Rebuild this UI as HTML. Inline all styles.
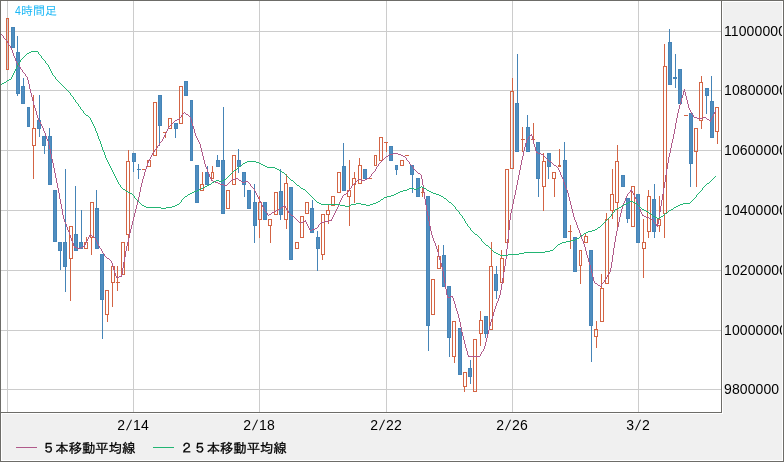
<!DOCTYPE html>
<html lang="ja"><head><meta charset="utf-8"><title>4時間足</title>
<style>
html,body{margin:0;padding:0;}
body{width:784px;height:462px;overflow:hidden;background:#f0f0f0;position:relative;font-family:"Liberation Sans","IPAGothic","Noto Sans CJK JP",sans-serif;color:#000;}
.a{position:absolute;}
#plot{left:1px;top:1px;width:720px;height:411px;background:#fff;overflow:hidden;}
svg{position:absolute;left:-1px;top:-1px;}
.yl{position:absolute;left:1px;font-size:14px;line-height:14px;white-space:nowrap;letter-spacing:0.1px;}
.xl{position:absolute;top:417px;width:60px;text-align:center;font-size:14px;line-height:16px;white-space:nowrap;}
.xl i{display:inline-block;width:8px;text-align:center;font-style:normal;transform:skewX(-12deg);}
.lg{position:absolute;top:441px;font-size:13.33px;line-height:16px;white-space:nowrap;-webkit-text-stroke:0.3px #000;}
#yax{left:723px;top:2px;width:59px;height:458px;overflow:hidden;}
#ttl{left:15px;top:3px;font-size:12px;line-height:16px;color:#1ab7f6;white-space:nowrap;}
#ttl b{font-weight:normal;display:inline-block;width:6px;transform:scaleX(0.88);transform-origin:0 50%;}
</style></head><body>
<div class="a" style="left:0;top:0;width:784px;height:1px;background:#6d6c68"></div>
<div class="a" style="left:0;top:0;width:1px;height:462px;background:#6d6c68"></div>
<div class="a" style="left:0;top:461px;width:784px;height:1px;background:#6d6c68"></div>
<div class="a" style="left:783px;top:0;width:1px;height:462px;background:#6d6c68"></div>
<div class="a" style="left:1px;top:460px;width:782px;height:1px;background:#fff"></div>
<div class="a" style="left:782px;top:1px;width:1px;height:460px;background:#fff"></div>
<div class="a" style="left:722px;top:1px;width:60px;height:1px;background:#fff"></div>
<div class="a" style="left:1px;top:413px;width:1px;height:47px;background:#fff"></div>
<div class="a" style="left:1px;top:412px;width:721px;height:1px;background:#6d6c68"></div>
<div class="a" style="left:721px;top:1px;width:1px;height:412px;background:#6d6c68"></div>
<div class="a" style="left:1px;top:413px;width:722px;height:1px;background:#fff"></div>
<div class="a" style="left:722px;top:1px;width:1px;height:413px;background:#fff"></div>
<div class="a" id="plot"><svg width="784" height="462" viewBox="0 0 784 462" shape-rendering="crispEdges">
<rect x="7" y="1" width="1" height="411" fill="#cccccc"/>
<rect x="133" y="1" width="1" height="411" fill="#cccccc"/>
<rect x="259" y="1" width="1" height="411" fill="#cccccc"/>
<rect x="386" y="1" width="1" height="411" fill="#cccccc"/>
<rect x="512" y="1" width="1" height="411" fill="#cccccc"/>
<rect x="638" y="1" width="1" height="411" fill="#cccccc"/>
<rect x="1" y="31" width="720" height="1" fill="#cccccc"/>
<rect x="1" y="90" width="720" height="1" fill="#cccccc"/>
<rect x="1" y="150" width="720" height="1" fill="#cccccc"/>
<rect x="1" y="210" width="720" height="1" fill="#cccccc"/>
<rect x="1" y="270" width="720" height="1" fill="#cccccc"/>
<rect x="1" y="330" width="720" height="1" fill="#cccccc"/>
<rect x="1" y="389" width="720" height="1" fill="#cccccc"/>
<rect x="6" y="18" width="3" height="1" fill="#d36444"/>
<rect x="6" y="69" width="3" height="1" fill="#d36444"/>
<rect x="6" y="18" width="1" height="52" fill="#d36444"/>
<rect x="8" y="18" width="1" height="52" fill="#d36444"/>
<rect x="11" y="27" width="4" height="21" fill="#4584b7"/>
<rect x="12" y="28" width="2" height="19" fill="#4f8ec0"/>
<rect x="17" y="36" width="1" height="16" fill="#4584b7"/>
<rect x="17" y="94" width="1" height="2" fill="#4584b7"/>
<rect x="16" y="52" width="4" height="42" fill="#4584b7"/>
<rect x="17" y="53" width="2" height="40" fill="#4f8ec0"/>
<rect x="23" y="78" width="1" height="8" fill="#4584b7"/>
<rect x="21" y="86" width="4" height="18" fill="#4584b7"/>
<rect x="22" y="87" width="2" height="16" fill="#4f8ec0"/>
<rect x="27" y="107" width="3" height="20" fill="#4584b7"/>
<rect x="28" y="108" width="1" height="18" fill="#4f8ec0"/>
<rect x="33" y="95" width="1" height="33" fill="#d36444"/>
<rect x="33" y="146" width="1" height="33" fill="#d36444"/>
<rect x="32" y="128" width="4" height="1" fill="#d36444"/>
<rect x="32" y="145" width="4" height="1" fill="#d36444"/>
<rect x="32" y="128" width="1" height="18" fill="#d36444"/>
<rect x="35" y="128" width="1" height="18" fill="#d36444"/>
<rect x="39" y="95" width="1" height="25" fill="#4584b7"/>
<rect x="39" y="129" width="1" height="8" fill="#4584b7"/>
<rect x="37" y="120" width="4" height="9" fill="#4584b7"/>
<rect x="38" y="121" width="2" height="7" fill="#4f8ec0"/>
<rect x="44" y="146" width="1" height="8" fill="#4584b7"/>
<rect x="42" y="136" width="4" height="10" fill="#4584b7"/>
<rect x="43" y="137" width="2" height="8" fill="#4f8ec0"/>
<rect x="49" y="128" width="1" height="8" fill="#4584b7"/>
<rect x="48" y="136" width="4" height="49" fill="#4584b7"/>
<rect x="49" y="137" width="2" height="47" fill="#4f8ec0"/>
<rect x="53" y="190" width="4" height="52" fill="#4584b7"/>
<rect x="54" y="191" width="2" height="50" fill="#4f8ec0"/>
<rect x="60" y="251" width="1" height="19" fill="#4584b7"/>
<rect x="58" y="242" width="4" height="9" fill="#4584b7"/>
<rect x="59" y="243" width="2" height="7" fill="#4f8ec0"/>
<rect x="65" y="169" width="1" height="73" fill="#4584b7"/>
<rect x="65" y="267" width="1" height="25" fill="#4584b7"/>
<rect x="63" y="242" width="4" height="25" fill="#4584b7"/>
<rect x="64" y="243" width="2" height="23" fill="#4f8ec0"/>
<rect x="70" y="259" width="1" height="42" fill="#d36444"/>
<rect x="69" y="226" width="4" height="1" fill="#d36444"/>
<rect x="69" y="258" width="4" height="1" fill="#d36444"/>
<rect x="69" y="226" width="1" height="33" fill="#d36444"/>
<rect x="72" y="226" width="1" height="33" fill="#d36444"/>
<rect x="75" y="186" width="1" height="48" fill="#4584b7"/>
<rect x="74" y="234" width="4" height="17" fill="#4584b7"/>
<rect x="75" y="235" width="2" height="15" fill="#4f8ec0"/>
<rect x="81" y="210" width="1" height="32" fill="#4584b7"/>
<rect x="79" y="242" width="4" height="7" fill="#4584b7"/>
<rect x="80" y="243" width="2" height="5" fill="#4f8ec0"/>
<rect x="86" y="237" width="1" height="5" fill="#d36444"/>
<rect x="84" y="242" width="4" height="1" fill="#d36444"/>
<rect x="84" y="248" width="4" height="1" fill="#d36444"/>
<rect x="84" y="242" width="1" height="7" fill="#d36444"/>
<rect x="87" y="242" width="1" height="7" fill="#d36444"/>
<rect x="91" y="238" width="1" height="17" fill="#d36444"/>
<rect x="90" y="202" width="4" height="1" fill="#d36444"/>
<rect x="90" y="237" width="4" height="1" fill="#d36444"/>
<rect x="90" y="202" width="1" height="36" fill="#d36444"/>
<rect x="93" y="202" width="1" height="36" fill="#d36444"/>
<rect x="96" y="190" width="1" height="18" fill="#4584b7"/>
<rect x="95" y="208" width="4" height="41" fill="#4584b7"/>
<rect x="96" y="209" width="2" height="39" fill="#4f8ec0"/>
<rect x="102" y="300" width="1" height="39" fill="#4584b7"/>
<rect x="100" y="254" width="4" height="46" fill="#4584b7"/>
<rect x="101" y="255" width="2" height="44" fill="#4f8ec0"/>
<rect x="107" y="315" width="1" height="7" fill="#d36444"/>
<rect x="105" y="290" width="4" height="1" fill="#d36444"/>
<rect x="105" y="314" width="4" height="1" fill="#d36444"/>
<rect x="105" y="290" width="1" height="25" fill="#d36444"/>
<rect x="108" y="290" width="1" height="25" fill="#d36444"/>
<rect x="112" y="283" width="1" height="24" fill="#d36444"/>
<rect x="111" y="266" width="4" height="1" fill="#d36444"/>
<rect x="111" y="282" width="4" height="1" fill="#d36444"/>
<rect x="111" y="266" width="1" height="17" fill="#d36444"/>
<rect x="114" y="266" width="1" height="17" fill="#d36444"/>
<rect x="117" y="266" width="1" height="16" fill="#d36444"/>
<rect x="117" y="283" width="1" height="8" fill="#d36444"/>
<rect x="116" y="282" width="4" height="1" fill="#d36444"/>
<rect x="121" y="242" width="4" height="1" fill="#d36444"/>
<rect x="121" y="274" width="4" height="1" fill="#d36444"/>
<rect x="121" y="242" width="1" height="33" fill="#d36444"/>
<rect x="124" y="242" width="1" height="33" fill="#d36444"/>
<rect x="128" y="150" width="1" height="11" fill="#d36444"/>
<rect x="128" y="235" width="1" height="16" fill="#d36444"/>
<rect x="126" y="161" width="4" height="1" fill="#d36444"/>
<rect x="126" y="234" width="4" height="1" fill="#d36444"/>
<rect x="126" y="161" width="1" height="74" fill="#d36444"/>
<rect x="129" y="161" width="1" height="74" fill="#d36444"/>
<rect x="133" y="162" width="1" height="10" fill="#4584b7"/>
<rect x="132" y="153" width="4" height="9" fill="#4584b7"/>
<rect x="133" y="154" width="2" height="7" fill="#4f8ec0"/>
<rect x="138" y="164" width="1" height="5" fill="#4584b7"/>
<rect x="138" y="170" width="1" height="9" fill="#4584b7"/>
<rect x="137" y="169" width="4" height="1" fill="#4584b7"/>
<rect x="142" y="169" width="4" height="1" fill="#d36444"/>
<rect x="147" y="160" width="4" height="1" fill="#d36444"/>
<rect x="147" y="166" width="4" height="1" fill="#d36444"/>
<rect x="147" y="160" width="1" height="7" fill="#d36444"/>
<rect x="150" y="160" width="1" height="7" fill="#d36444"/>
<rect x="153" y="102" width="4" height="1" fill="#d36444"/>
<rect x="153" y="155" width="4" height="1" fill="#d36444"/>
<rect x="153" y="102" width="1" height="54" fill="#d36444"/>
<rect x="156" y="102" width="1" height="54" fill="#d36444"/>
<rect x="159" y="126" width="1" height="20" fill="#4584b7"/>
<rect x="158" y="95" width="4" height="31" fill="#4584b7"/>
<rect x="159" y="96" width="2" height="29" fill="#4f8ec0"/>
<rect x="165" y="133" width="1" height="5" fill="#d36444"/>
<rect x="163" y="132" width="4" height="1" fill="#d36444"/>
<rect x="168" y="118" width="4" height="1" fill="#d36444"/>
<rect x="168" y="128" width="4" height="1" fill="#d36444"/>
<rect x="168" y="118" width="1" height="11" fill="#d36444"/>
<rect x="171" y="118" width="1" height="11" fill="#d36444"/>
<rect x="175" y="129" width="1" height="9" fill="#4584b7"/>
<rect x="174" y="123" width="4" height="6" fill="#4584b7"/>
<rect x="175" y="124" width="2" height="4" fill="#4f8ec0"/>
<rect x="179" y="86" width="4" height="1" fill="#d36444"/>
<rect x="179" y="123" width="4" height="1" fill="#d36444"/>
<rect x="179" y="86" width="1" height="38" fill="#d36444"/>
<rect x="182" y="86" width="1" height="38" fill="#d36444"/>
<rect x="184" y="81" width="4" height="15" fill="#4584b7"/>
<rect x="185" y="82" width="2" height="13" fill="#4f8ec0"/>
<rect x="190" y="100" width="3" height="61" fill="#4584b7"/>
<rect x="191" y="101" width="1" height="59" fill="#4f8ec0"/>
<rect x="195" y="165" width="4" height="38" fill="#4584b7"/>
<rect x="196" y="166" width="2" height="36" fill="#4f8ec0"/>
<rect x="202" y="172" width="1" height="12" fill="#d36444"/>
<rect x="200" y="184" width="4" height="1" fill="#d36444"/>
<rect x="200" y="190" width="4" height="1" fill="#d36444"/>
<rect x="200" y="184" width="1" height="7" fill="#d36444"/>
<rect x="203" y="184" width="1" height="7" fill="#d36444"/>
<rect x="207" y="166" width="1" height="6" fill="#4584b7"/>
<rect x="205" y="172" width="4" height="13" fill="#4584b7"/>
<rect x="206" y="173" width="2" height="11" fill="#4f8ec0"/>
<rect x="212" y="166" width="1" height="6" fill="#d36444"/>
<rect x="211" y="172" width="3" height="1" fill="#d36444"/>
<rect x="211" y="178" width="3" height="1" fill="#d36444"/>
<rect x="211" y="172" width="1" height="7" fill="#d36444"/>
<rect x="213" y="172" width="1" height="7" fill="#d36444"/>
<rect x="217" y="155" width="1" height="5" fill="#4584b7"/>
<rect x="216" y="160" width="4" height="7" fill="#4584b7"/>
<rect x="217" y="161" width="2" height="5" fill="#4f8ec0"/>
<rect x="223" y="107" width="1" height="53" fill="#4584b7"/>
<rect x="221" y="160" width="4" height="54" fill="#4584b7"/>
<rect x="222" y="161" width="2" height="52" fill="#4f8ec0"/>
<rect x="226" y="190" width="4" height="1" fill="#d36444"/>
<rect x="226" y="208" width="4" height="1" fill="#d36444"/>
<rect x="226" y="190" width="1" height="19" fill="#d36444"/>
<rect x="229" y="190" width="1" height="19" fill="#d36444"/>
<rect x="232" y="155" width="4" height="1" fill="#d36444"/>
<rect x="232" y="184" width="4" height="1" fill="#d36444"/>
<rect x="232" y="155" width="1" height="30" fill="#d36444"/>
<rect x="235" y="155" width="1" height="30" fill="#d36444"/>
<rect x="238" y="149" width="1" height="11" fill="#4584b7"/>
<rect x="238" y="167" width="1" height="6" fill="#4584b7"/>
<rect x="237" y="160" width="4" height="7" fill="#4584b7"/>
<rect x="238" y="161" width="2" height="5" fill="#4f8ec0"/>
<rect x="244" y="185" width="1" height="12" fill="#4584b7"/>
<rect x="242" y="172" width="4" height="13" fill="#4584b7"/>
<rect x="243" y="173" width="2" height="11" fill="#4f8ec0"/>
<rect x="247" y="190" width="4" height="19" fill="#4584b7"/>
<rect x="248" y="191" width="2" height="17" fill="#4f8ec0"/>
<rect x="254" y="184" width="1" height="18" fill="#4584b7"/>
<rect x="254" y="226" width="1" height="17" fill="#4584b7"/>
<rect x="253" y="202" width="4" height="24" fill="#4584b7"/>
<rect x="254" y="203" width="2" height="22" fill="#4f8ec0"/>
<rect x="259" y="196" width="1" height="6" fill="#d36444"/>
<rect x="259" y="220" width="1" height="18" fill="#d36444"/>
<rect x="258" y="202" width="4" height="1" fill="#d36444"/>
<rect x="258" y="219" width="4" height="1" fill="#d36444"/>
<rect x="258" y="202" width="1" height="18" fill="#d36444"/>
<rect x="261" y="202" width="1" height="18" fill="#d36444"/>
<rect x="263" y="202" width="4" height="18" fill="#4584b7"/>
<rect x="264" y="203" width="2" height="16" fill="#4f8ec0"/>
<rect x="270" y="226" width="1" height="17" fill="#d36444"/>
<rect x="268" y="219" width="4" height="1" fill="#d36444"/>
<rect x="268" y="225" width="4" height="1" fill="#d36444"/>
<rect x="268" y="219" width="1" height="7" fill="#d36444"/>
<rect x="271" y="219" width="1" height="7" fill="#d36444"/>
<rect x="274" y="192" width="4" height="1" fill="#d36444"/>
<rect x="274" y="214" width="4" height="1" fill="#d36444"/>
<rect x="274" y="192" width="1" height="23" fill="#d36444"/>
<rect x="277" y="192" width="1" height="23" fill="#d36444"/>
<rect x="280" y="169" width="1" height="22" fill="#4584b7"/>
<rect x="280" y="215" width="1" height="5" fill="#4584b7"/>
<rect x="279" y="191" width="4" height="24" fill="#4584b7"/>
<rect x="280" y="192" width="2" height="22" fill="#4f8ec0"/>
<rect x="286" y="174" width="1" height="9" fill="#d36444"/>
<rect x="286" y="220" width="1" height="9" fill="#d36444"/>
<rect x="284" y="183" width="4" height="1" fill="#d36444"/>
<rect x="284" y="219" width="4" height="1" fill="#d36444"/>
<rect x="284" y="183" width="1" height="37" fill="#d36444"/>
<rect x="287" y="183" width="1" height="37" fill="#d36444"/>
<rect x="289" y="187" width="4" height="73" fill="#4584b7"/>
<rect x="290" y="188" width="2" height="71" fill="#4f8ec0"/>
<rect x="295" y="242" width="4" height="1" fill="#d36444"/>
<rect x="295" y="248" width="4" height="1" fill="#d36444"/>
<rect x="295" y="242" width="1" height="7" fill="#d36444"/>
<rect x="298" y="242" width="1" height="7" fill="#d36444"/>
<rect x="300" y="216" width="4" height="1" fill="#d36444"/>
<rect x="300" y="237" width="4" height="1" fill="#d36444"/>
<rect x="300" y="216" width="1" height="22" fill="#d36444"/>
<rect x="303" y="216" width="1" height="22" fill="#d36444"/>
<rect x="305" y="202" width="4" height="1" fill="#d36444"/>
<rect x="305" y="213" width="4" height="1" fill="#d36444"/>
<rect x="305" y="202" width="1" height="12" fill="#d36444"/>
<rect x="308" y="202" width="1" height="12" fill="#d36444"/>
<rect x="312" y="200" width="1" height="8" fill="#4584b7"/>
<rect x="310" y="208" width="4" height="25" fill="#4584b7"/>
<rect x="311" y="209" width="2" height="23" fill="#4f8ec0"/>
<rect x="317" y="231" width="1" height="6" fill="#4584b7"/>
<rect x="317" y="249" width="1" height="22" fill="#4584b7"/>
<rect x="316" y="237" width="4" height="12" fill="#4584b7"/>
<rect x="317" y="238" width="2" height="10" fill="#4f8ec0"/>
<rect x="322" y="255" width="1" height="5" fill="#d36444"/>
<rect x="321" y="214" width="4" height="1" fill="#d36444"/>
<rect x="321" y="254" width="4" height="1" fill="#d36444"/>
<rect x="321" y="214" width="1" height="41" fill="#d36444"/>
<rect x="324" y="214" width="1" height="41" fill="#d36444"/>
<rect x="328" y="205" width="1" height="5" fill="#d36444"/>
<rect x="328" y="215" width="1" height="9" fill="#d36444"/>
<rect x="326" y="210" width="4" height="1" fill="#d36444"/>
<rect x="326" y="214" width="4" height="1" fill="#d36444"/>
<rect x="326" y="210" width="1" height="5" fill="#d36444"/>
<rect x="329" y="210" width="1" height="5" fill="#d36444"/>
<rect x="331" y="196" width="4" height="1" fill="#d36444"/>
<rect x="331" y="205" width="4" height="1" fill="#d36444"/>
<rect x="331" y="196" width="1" height="10" fill="#d36444"/>
<rect x="334" y="196" width="1" height="10" fill="#d36444"/>
<rect x="337" y="172" width="4" height="1" fill="#d36444"/>
<rect x="337" y="192" width="4" height="1" fill="#d36444"/>
<rect x="337" y="172" width="1" height="21" fill="#d36444"/>
<rect x="340" y="172" width="1" height="21" fill="#d36444"/>
<rect x="343" y="143" width="1" height="23" fill="#4584b7"/>
<rect x="342" y="166" width="4" height="25" fill="#4584b7"/>
<rect x="343" y="167" width="2" height="23" fill="#4f8ec0"/>
<rect x="349" y="160" width="1" height="30" fill="#d36444"/>
<rect x="349" y="197" width="1" height="29" fill="#d36444"/>
<rect x="347" y="190" width="4" height="1" fill="#d36444"/>
<rect x="347" y="196" width="4" height="1" fill="#d36444"/>
<rect x="347" y="190" width="1" height="7" fill="#d36444"/>
<rect x="350" y="190" width="1" height="7" fill="#d36444"/>
<rect x="354" y="172" width="1" height="6" fill="#d36444"/>
<rect x="354" y="185" width="1" height="18" fill="#d36444"/>
<rect x="352" y="178" width="4" height="1" fill="#d36444"/>
<rect x="352" y="184" width="4" height="1" fill="#d36444"/>
<rect x="352" y="178" width="1" height="7" fill="#d36444"/>
<rect x="355" y="178" width="1" height="7" fill="#d36444"/>
<rect x="359" y="158" width="1" height="7" fill="#d36444"/>
<rect x="358" y="165" width="4" height="1" fill="#d36444"/>
<rect x="358" y="183" width="4" height="1" fill="#d36444"/>
<rect x="358" y="165" width="1" height="19" fill="#d36444"/>
<rect x="361" y="165" width="1" height="19" fill="#d36444"/>
<rect x="363" y="169" width="4" height="10" fill="#4584b7"/>
<rect x="364" y="170" width="2" height="8" fill="#4f8ec0"/>
<rect x="368" y="178" width="4" height="1" fill="#d36444"/>
<rect x="374" y="155" width="3" height="1" fill="#d36444"/>
<rect x="374" y="165" width="3" height="1" fill="#d36444"/>
<rect x="374" y="155" width="1" height="11" fill="#d36444"/>
<rect x="376" y="155" width="1" height="11" fill="#d36444"/>
<rect x="379" y="137" width="4" height="1" fill="#d36444"/>
<rect x="379" y="160" width="4" height="1" fill="#d36444"/>
<rect x="379" y="137" width="1" height="24" fill="#d36444"/>
<rect x="382" y="137" width="1" height="24" fill="#d36444"/>
<rect x="386" y="143" width="1" height="9" fill="#d36444"/>
<rect x="384" y="142" width="4" height="1" fill="#d36444"/>
<rect x="389" y="146" width="4" height="15" fill="#4584b7"/>
<rect x="390" y="147" width="2" height="13" fill="#4f8ec0"/>
<rect x="396" y="170" width="1" height="5" fill="#4584b7"/>
<rect x="395" y="165" width="3" height="5" fill="#4584b7"/>
<rect x="396" y="166" width="1" height="3" fill="#4f8ec0"/>
<rect x="400" y="160" width="4" height="1" fill="#d36444"/>
<rect x="400" y="165" width="4" height="1" fill="#d36444"/>
<rect x="400" y="160" width="1" height="6" fill="#d36444"/>
<rect x="403" y="160" width="1" height="6" fill="#d36444"/>
<rect x="405" y="155" width="4" height="1" fill="#d36444"/>
<rect x="412" y="175" width="1" height="18" fill="#4584b7"/>
<rect x="410" y="165" width="4" height="10" fill="#4584b7"/>
<rect x="411" y="166" width="2" height="8" fill="#4f8ec0"/>
<rect x="416" y="178" width="4" height="19" fill="#4584b7"/>
<rect x="417" y="179" width="2" height="17" fill="#4f8ec0"/>
<rect x="422" y="188" width="1" height="4" fill="#d36444"/>
<rect x="422" y="193" width="1" height="4" fill="#d36444"/>
<rect x="421" y="192" width="4" height="1" fill="#d36444"/>
<rect x="428" y="326" width="1" height="25" fill="#4584b7"/>
<rect x="426" y="196" width="4" height="130" fill="#4584b7"/>
<rect x="427" y="197" width="2" height="128" fill="#4f8ec0"/>
<rect x="431" y="279" width="4" height="1" fill="#d36444"/>
<rect x="431" y="314" width="4" height="1" fill="#d36444"/>
<rect x="431" y="279" width="1" height="36" fill="#d36444"/>
<rect x="434" y="279" width="1" height="36" fill="#d36444"/>
<rect x="438" y="245" width="1" height="11" fill="#d36444"/>
<rect x="437" y="256" width="4" height="1" fill="#d36444"/>
<rect x="437" y="268" width="4" height="1" fill="#d36444"/>
<rect x="437" y="256" width="1" height="13" fill="#d36444"/>
<rect x="440" y="256" width="1" height="13" fill="#d36444"/>
<rect x="443" y="245" width="1" height="10" fill="#4584b7"/>
<rect x="442" y="255" width="4" height="32" fill="#4584b7"/>
<rect x="443" y="256" width="2" height="30" fill="#4f8ec0"/>
<rect x="449" y="338" width="1" height="19" fill="#4584b7"/>
<rect x="447" y="286" width="4" height="52" fill="#4584b7"/>
<rect x="448" y="287" width="2" height="50" fill="#4f8ec0"/>
<rect x="454" y="357" width="1" height="6" fill="#d36444"/>
<rect x="452" y="321" width="4" height="1" fill="#d36444"/>
<rect x="452" y="356" width="4" height="1" fill="#d36444"/>
<rect x="452" y="321" width="1" height="36" fill="#d36444"/>
<rect x="455" y="321" width="1" height="36" fill="#d36444"/>
<rect x="458" y="328" width="4" height="47" fill="#4584b7"/>
<rect x="459" y="329" width="2" height="45" fill="#4f8ec0"/>
<rect x="464" y="387" width="1" height="5" fill="#d36444"/>
<rect x="463" y="372" width="4" height="1" fill="#d36444"/>
<rect x="463" y="386" width="4" height="1" fill="#d36444"/>
<rect x="463" y="372" width="1" height="15" fill="#d36444"/>
<rect x="466" y="372" width="1" height="15" fill="#d36444"/>
<rect x="470" y="360" width="1" height="8" fill="#4584b7"/>
<rect x="470" y="377" width="1" height="7" fill="#4584b7"/>
<rect x="468" y="368" width="4" height="9" fill="#4584b7"/>
<rect x="469" y="369" width="2" height="7" fill="#4f8ec0"/>
<rect x="473" y="339" width="4" height="1" fill="#d36444"/>
<rect x="473" y="391" width="4" height="1" fill="#d36444"/>
<rect x="473" y="339" width="1" height="53" fill="#d36444"/>
<rect x="476" y="339" width="1" height="53" fill="#d36444"/>
<rect x="480" y="311" width="1" height="9" fill="#d36444"/>
<rect x="480" y="334" width="1" height="12" fill="#d36444"/>
<rect x="479" y="320" width="4" height="1" fill="#d36444"/>
<rect x="479" y="333" width="4" height="1" fill="#d36444"/>
<rect x="479" y="320" width="1" height="14" fill="#d36444"/>
<rect x="482" y="320" width="1" height="14" fill="#d36444"/>
<rect x="485" y="334" width="1" height="4" fill="#4584b7"/>
<rect x="484" y="316" width="4" height="18" fill="#4584b7"/>
<rect x="485" y="317" width="2" height="16" fill="#4f8ec0"/>
<rect x="491" y="242" width="1" height="24" fill="#d36444"/>
<rect x="489" y="266" width="4" height="1" fill="#d36444"/>
<rect x="489" y="329" width="4" height="1" fill="#d36444"/>
<rect x="489" y="266" width="1" height="64" fill="#d36444"/>
<rect x="492" y="266" width="1" height="64" fill="#d36444"/>
<rect x="496" y="266" width="1" height="8" fill="#4584b7"/>
<rect x="496" y="291" width="1" height="8" fill="#4584b7"/>
<rect x="494" y="274" width="4" height="17" fill="#4584b7"/>
<rect x="495" y="275" width="2" height="15" fill="#4f8ec0"/>
<rect x="501" y="250" width="1" height="8" fill="#d36444"/>
<rect x="500" y="258" width="4" height="1" fill="#d36444"/>
<rect x="500" y="282" width="4" height="1" fill="#d36444"/>
<rect x="500" y="258" width="1" height="25" fill="#d36444"/>
<rect x="503" y="258" width="1" height="25" fill="#d36444"/>
<rect x="505" y="169" width="4" height="1" fill="#d36444"/>
<rect x="505" y="242" width="4" height="1" fill="#d36444"/>
<rect x="505" y="169" width="1" height="74" fill="#d36444"/>
<rect x="508" y="169" width="1" height="74" fill="#d36444"/>
<rect x="512" y="78" width="1" height="13" fill="#d36444"/>
<rect x="510" y="91" width="4" height="1" fill="#d36444"/>
<rect x="510" y="168" width="4" height="1" fill="#d36444"/>
<rect x="510" y="91" width="1" height="78" fill="#d36444"/>
<rect x="513" y="91" width="1" height="78" fill="#d36444"/>
<rect x="517" y="54" width="1" height="49" fill="#4584b7"/>
<rect x="515" y="103" width="4" height="49" fill="#4584b7"/>
<rect x="516" y="104" width="2" height="47" fill="#4f8ec0"/>
<rect x="522" y="127" width="1" height="12" fill="#d36444"/>
<rect x="522" y="140" width="1" height="12" fill="#d36444"/>
<rect x="521" y="139" width="4" height="1" fill="#d36444"/>
<rect x="527" y="115" width="1" height="12" fill="#4584b7"/>
<rect x="526" y="127" width="4" height="25" fill="#4584b7"/>
<rect x="527" y="128" width="2" height="23" fill="#4f8ec0"/>
<rect x="533" y="123" width="1" height="16" fill="#d36444"/>
<rect x="531" y="139" width="4" height="1" fill="#d36444"/>
<rect x="538" y="179" width="1" height="18" fill="#4584b7"/>
<rect x="536" y="142" width="4" height="37" fill="#4584b7"/>
<rect x="537" y="143" width="2" height="35" fill="#4f8ec0"/>
<rect x="543" y="153" width="1" height="8" fill="#d36444"/>
<rect x="543" y="187" width="1" height="24" fill="#d36444"/>
<rect x="542" y="161" width="4" height="1" fill="#d36444"/>
<rect x="542" y="186" width="4" height="1" fill="#d36444"/>
<rect x="542" y="161" width="1" height="26" fill="#d36444"/>
<rect x="545" y="161" width="1" height="26" fill="#d36444"/>
<rect x="548" y="167" width="1" height="12" fill="#4584b7"/>
<rect x="547" y="153" width="4" height="14" fill="#4584b7"/>
<rect x="548" y="154" width="2" height="12" fill="#4f8ec0"/>
<rect x="554" y="179" width="1" height="18" fill="#d36444"/>
<rect x="552" y="172" width="4" height="1" fill="#d36444"/>
<rect x="552" y="178" width="4" height="1" fill="#d36444"/>
<rect x="552" y="172" width="1" height="7" fill="#d36444"/>
<rect x="555" y="172" width="1" height="7" fill="#d36444"/>
<rect x="559" y="149" width="1" height="16" fill="#d36444"/>
<rect x="558" y="165" width="3" height="2" fill="#d36444"/>
<rect x="564" y="142" width="1" height="18" fill="#4584b7"/>
<rect x="563" y="160" width="4" height="78" fill="#4584b7"/>
<rect x="564" y="161" width="2" height="76" fill="#4f8ec0"/>
<rect x="570" y="225" width="1" height="6" fill="#d36444"/>
<rect x="570" y="232" width="1" height="17" fill="#d36444"/>
<rect x="568" y="231" width="4" height="1" fill="#d36444"/>
<rect x="573" y="237" width="4" height="35" fill="#4584b7"/>
<rect x="574" y="238" width="2" height="33" fill="#4f8ec0"/>
<rect x="580" y="266" width="1" height="18" fill="#d36444"/>
<rect x="579" y="250" width="3" height="1" fill="#d36444"/>
<rect x="579" y="265" width="3" height="1" fill="#d36444"/>
<rect x="579" y="250" width="1" height="16" fill="#d36444"/>
<rect x="581" y="250" width="1" height="16" fill="#d36444"/>
<rect x="585" y="233" width="1" height="3" fill="#d36444"/>
<rect x="584" y="236" width="4" height="1" fill="#d36444"/>
<rect x="584" y="242" width="4" height="1" fill="#d36444"/>
<rect x="584" y="236" width="1" height="7" fill="#d36444"/>
<rect x="587" y="236" width="1" height="7" fill="#d36444"/>
<rect x="591" y="326" width="1" height="36" fill="#4584b7"/>
<rect x="589" y="250" width="4" height="76" fill="#4584b7"/>
<rect x="590" y="251" width="2" height="74" fill="#4f8ec0"/>
<rect x="596" y="321" width="1" height="8" fill="#d36444"/>
<rect x="596" y="337" width="1" height="11" fill="#d36444"/>
<rect x="594" y="329" width="4" height="1" fill="#d36444"/>
<rect x="594" y="336" width="4" height="1" fill="#d36444"/>
<rect x="594" y="329" width="1" height="8" fill="#d36444"/>
<rect x="597" y="329" width="1" height="8" fill="#d36444"/>
<rect x="601" y="274" width="1" height="14" fill="#d36444"/>
<rect x="600" y="288" width="4" height="1" fill="#d36444"/>
<rect x="600" y="321" width="4" height="1" fill="#d36444"/>
<rect x="600" y="288" width="1" height="34" fill="#d36444"/>
<rect x="603" y="288" width="1" height="34" fill="#d36444"/>
<rect x="606" y="213" width="1" height="6" fill="#d36444"/>
<rect x="605" y="219" width="4" height="1" fill="#d36444"/>
<rect x="605" y="283" width="4" height="1" fill="#d36444"/>
<rect x="605" y="219" width="1" height="65" fill="#d36444"/>
<rect x="608" y="219" width="1" height="65" fill="#d36444"/>
<rect x="612" y="169" width="1" height="25" fill="#d36444"/>
<rect x="612" y="211" width="1" height="8" fill="#d36444"/>
<rect x="610" y="194" width="4" height="1" fill="#d36444"/>
<rect x="610" y="210" width="4" height="1" fill="#d36444"/>
<rect x="610" y="194" width="1" height="17" fill="#d36444"/>
<rect x="613" y="194" width="1" height="17" fill="#d36444"/>
<rect x="617" y="145" width="1" height="16" fill="#d36444"/>
<rect x="617" y="203" width="1" height="24" fill="#d36444"/>
<rect x="615" y="161" width="4" height="1" fill="#d36444"/>
<rect x="615" y="202" width="4" height="1" fill="#d36444"/>
<rect x="615" y="161" width="1" height="42" fill="#d36444"/>
<rect x="618" y="161" width="1" height="42" fill="#d36444"/>
<rect x="621" y="175" width="4" height="12" fill="#4584b7"/>
<rect x="622" y="176" width="2" height="10" fill="#4f8ec0"/>
<rect x="627" y="219" width="1" height="4" fill="#4584b7"/>
<rect x="626" y="198" width="4" height="21" fill="#4584b7"/>
<rect x="627" y="199" width="2" height="19" fill="#4f8ec0"/>
<rect x="631" y="186" width="4" height="1" fill="#d36444"/>
<rect x="631" y="226" width="4" height="1" fill="#d36444"/>
<rect x="631" y="186" width="1" height="41" fill="#d36444"/>
<rect x="634" y="186" width="1" height="41" fill="#d36444"/>
<rect x="636" y="194" width="4" height="49" fill="#4584b7"/>
<rect x="637" y="195" width="2" height="47" fill="#4f8ec0"/>
<rect x="643" y="219" width="1" height="23" fill="#d36444"/>
<rect x="643" y="249" width="1" height="29" fill="#d36444"/>
<rect x="642" y="242" width="4" height="1" fill="#d36444"/>
<rect x="642" y="248" width="4" height="1" fill="#d36444"/>
<rect x="642" y="242" width="1" height="7" fill="#d36444"/>
<rect x="645" y="242" width="1" height="7" fill="#d36444"/>
<rect x="648" y="190" width="1" height="6" fill="#d36444"/>
<rect x="648" y="232" width="1" height="6" fill="#d36444"/>
<rect x="647" y="196" width="4" height="1" fill="#d36444"/>
<rect x="647" y="231" width="4" height="1" fill="#d36444"/>
<rect x="647" y="196" width="1" height="36" fill="#d36444"/>
<rect x="650" y="196" width="1" height="36" fill="#d36444"/>
<rect x="654" y="184" width="1" height="15" fill="#4584b7"/>
<rect x="654" y="232" width="1" height="6" fill="#4584b7"/>
<rect x="652" y="199" width="4" height="33" fill="#4584b7"/>
<rect x="653" y="200" width="2" height="31" fill="#4f8ec0"/>
<rect x="659" y="196" width="1" height="23" fill="#d36444"/>
<rect x="659" y="226" width="1" height="6" fill="#d36444"/>
<rect x="657" y="219" width="4" height="1" fill="#d36444"/>
<rect x="657" y="225" width="4" height="1" fill="#d36444"/>
<rect x="657" y="219" width="1" height="7" fill="#d36444"/>
<rect x="660" y="219" width="1" height="7" fill="#d36444"/>
<rect x="664" y="44" width="1" height="22" fill="#d36444"/>
<rect x="664" y="214" width="1" height="24" fill="#d36444"/>
<rect x="663" y="66" width="4" height="1" fill="#d36444"/>
<rect x="663" y="213" width="4" height="1" fill="#d36444"/>
<rect x="663" y="66" width="1" height="148" fill="#d36444"/>
<rect x="666" y="66" width="1" height="148" fill="#d36444"/>
<rect x="669" y="29" width="1" height="13" fill="#4584b7"/>
<rect x="668" y="42" width="4" height="43" fill="#4584b7"/>
<rect x="669" y="43" width="2" height="41" fill="#4f8ec0"/>
<rect x="675" y="54" width="1" height="23" fill="#4584b7"/>
<rect x="675" y="79" width="1" height="9" fill="#4584b7"/>
<rect x="673" y="77" width="4" height="2" fill="#4584b7"/>
<rect x="678" y="69" width="4" height="35" fill="#4584b7"/>
<rect x="679" y="70" width="2" height="33" fill="#4f8ec0"/>
<rect x="684" y="115" width="4" height="1" fill="#d36444"/>
<rect x="690" y="164" width="1" height="23" fill="#4584b7"/>
<rect x="689" y="113" width="4" height="51" fill="#4584b7"/>
<rect x="690" y="114" width="2" height="49" fill="#4f8ec0"/>
<rect x="696" y="152" width="1" height="35" fill="#d36444"/>
<rect x="694" y="128" width="4" height="1" fill="#d36444"/>
<rect x="694" y="151" width="4" height="1" fill="#d36444"/>
<rect x="694" y="128" width="1" height="24" fill="#d36444"/>
<rect x="697" y="128" width="1" height="24" fill="#d36444"/>
<rect x="701" y="76" width="1" height="6" fill="#d36444"/>
<rect x="701" y="121" width="1" height="8" fill="#d36444"/>
<rect x="699" y="82" width="4" height="1" fill="#d36444"/>
<rect x="699" y="120" width="4" height="1" fill="#d36444"/>
<rect x="699" y="82" width="1" height="39" fill="#d36444"/>
<rect x="702" y="82" width="1" height="39" fill="#d36444"/>
<rect x="706" y="96" width="1" height="18" fill="#4584b7"/>
<rect x="705" y="88" width="4" height="8" fill="#4584b7"/>
<rect x="706" y="89" width="2" height="6" fill="#4f8ec0"/>
<rect x="711" y="76" width="1" height="25" fill="#4584b7"/>
<rect x="710" y="101" width="4" height="37" fill="#4584b7"/>
<rect x="711" y="102" width="2" height="35" fill="#4f8ec0"/>
<rect x="717" y="132" width="1" height="12" fill="#d36444"/>
<rect x="715" y="107" width="4" height="1" fill="#d36444"/>
<rect x="715" y="131" width="4" height="1" fill="#d36444"/>
<rect x="715" y="107" width="1" height="25" fill="#d36444"/>
<rect x="718" y="107" width="1" height="25" fill="#d36444"/>
<path d="M3 36h1v2h-1zM7 41h1v2h-1zM8 43h1v2h-1zM10 46h1v2h-1zM11 48h1v2h-1zM12 50h1v3h-1zM13 53h1v3h-1zM14 56h1v2h-1zM15 58h1v3h-1zM16 61h1v2h-1zM17 63h1v2h-1zM20 67h1v2h-1zM22 70h1v2h-1zM25 74h1v2h-1zM27 77h1v3h-1zM28 80h1v4h-1zM29 84h1v5h-1zM30 89h1v4h-1zM31 93h1v4h-1zM32 97h1v4h-1zM33 101h1v4h-1zM34 105h1v3h-1zM35 108h1v3h-1zM36 111h1v4h-1zM37 115h1v3h-1zM38 118h1v2h-1zM39 120h1v2h-1zM40 122h1v2h-1zM41 124h1v2h-1zM42 126h1v2h-1zM43 128h1v3h-1zM44 131h1v2h-1zM45 133h1v3h-1zM46 136h1v3h-1zM47 139h1v2h-1zM48 141h1v4h-1zM49 145h1v4h-1zM50 149h1v5h-1zM51 154h1v5h-1zM52 159h1v4h-1zM53 163h1v5h-1zM54 168h1v5h-1zM55 173h1v5h-1zM56 178h1v5h-1zM57 183h1v5h-1zM58 188h1v5h-1zM59 193h1v6h-1zM60 199h1v5h-1zM61 204h1v5h-1zM62 209h1v6h-1zM63 215h1v4h-1zM64 219h1v3h-1zM65 222h1v2h-1zM66 224h1v3h-1zM67 227h1v3h-1zM68 230h1v2h-1zM69 232h1v3h-1zM70 235h1v3h-1zM71 238h1v3h-1zM72 241h1v2h-1zM73 243h1v3h-1zM74 246h1v2h-1zM84 245h1v2h-1zM85 243h1v2h-1zM86 241h1v2h-1zM87 239h1v2h-1zM88 237h1v2h-1zM89 235h1v2h-1zM95 238h1v2h-1zM96 240h1v2h-1zM97 242h1v2h-1zM98 244h1v2h-1zM99 246h1v2h-1zM101 249h1v2h-1zM102 251h1v2h-1zM104 254h1v2h-1zM111 261h1v2h-1zM112 263h1v3h-1zM113 266h1v4h-1zM114 270h1v3h-1zM115 273h1v3h-1zM116 276h1v2h-1zM121 274h1v3h-1zM122 268h1v6h-1zM123 262h1v6h-1zM124 257h1v5h-1zM125 251h1v6h-1zM126 246h1v5h-1zM127 242h1v4h-1zM128 238h1v4h-1zM129 233h1v5h-1zM130 229h1v4h-1zM131 225h1v4h-1zM132 221h1v4h-1zM133 217h1v4h-1zM134 213h1v4h-1zM135 209h1v4h-1zM136 205h1v4h-1zM137 201h1v4h-1zM138 197h1v4h-1zM139 192h1v5h-1zM140 187h1v5h-1zM141 183h1v4h-1zM142 179h1v4h-1zM143 176h1v3h-1zM144 172h1v4h-1zM145 169h1v3h-1zM146 166h1v3h-1zM147 163h1v3h-1zM148 161h1v2h-1zM149 159h1v2h-1zM150 157h1v2h-1zM151 155h1v2h-1zM152 153h1v2h-1zM154 150h1v2h-1zM157 146h1v2h-1zM159 143h1v2h-1zM162 139h1v2h-1zM163 137h1v2h-1zM164 135h1v2h-1zM165 133h1v2h-1zM166 131h1v2h-1zM167 129h1v2h-1zM168 127h1v2h-1zM181 115h1v2h-1zM190 117h1v2h-1zM191 119h1v4h-1zM192 123h1v3h-1zM193 126h1v3h-1zM194 129h1v4h-1zM195 133h1v3h-1zM196 136h1v2h-1zM197 138h1v2h-1zM198 140h1v2h-1zM199 142h1v2h-1zM200 144h1v4h-1zM201 148h1v4h-1zM202 152h1v4h-1zM203 156h1v4h-1zM204 160h1v4h-1zM205 164h1v3h-1zM206 167h1v2h-1zM207 169h1v3h-1zM208 172h1v2h-1zM209 174h1v3h-1zM210 177h1v2h-1zM211 179h1v2h-1zM250 184h1v2h-1zM254 189h1v2h-1zM255 191h1v2h-1zM256 193h1v2h-1zM257 195h1v2h-1zM258 197h1v2h-1zM259 199h1v2h-1zM260 201h1v2h-1zM261 203h1v2h-1zM262 205h1v2h-1zM263 207h1v2h-1zM264 209h1v2h-1zM267 213h1v2h-1zM285 206h1v2h-1zM286 208h1v2h-1zM288 211h1v2h-1zM305 220h1v2h-1zM306 222h1v2h-1zM307 224h1v2h-1zM308 226h1v2h-1zM309 228h1v2h-1zM318 225h1v2h-1zM331 219h1v2h-1zM332 217h1v2h-1zM333 215h1v2h-1zM334 213h1v2h-1zM335 211h1v2h-1zM336 209h1v2h-1zM337 207h1v2h-1zM338 205h1v2h-1zM339 202h1v3h-1zM340 200h1v2h-1zM341 198h1v2h-1zM342 196h1v2h-1zM348 190h1v2h-1zM351 186h1v2h-1zM371 174h1v2h-1zM375 169h1v2h-1zM376 167h1v2h-1zM378 164h1v2h-1zM406 158h1v2h-1zM409 162h1v2h-1zM413 167h1v2h-1zM421 175h1v4h-1zM422 179h1v6h-1zM423 185h1v7h-1zM424 192h1v7h-1zM425 199h1v6h-1zM426 205h1v6h-1zM427 211h1v5h-1zM428 216h1v5h-1zM429 221h1v5h-1zM430 226h1v5h-1zM431 231h1v4h-1zM432 235h1v3h-1zM433 238h1v3h-1zM434 241h1v2h-1zM435 243h1v3h-1zM436 246h1v3h-1zM437 249h1v3h-1zM438 252h1v4h-1zM439 256h1v4h-1zM440 260h1v3h-1zM441 263h1v4h-1zM442 267h1v4h-1zM443 271h1v6h-1zM444 277h1v6h-1zM445 283h1v6h-1zM446 289h1v6h-1zM447 295h1v3h-1zM452 296h1v2h-1zM453 298h1v3h-1zM454 301h1v3h-1zM455 304h1v4h-1zM456 308h1v3h-1zM457 311h1v3h-1zM458 314h1v4h-1zM459 318h1v4h-1zM460 322h1v5h-1zM461 327h1v5h-1zM462 332h1v4h-1zM463 336h1v4h-1zM464 340h1v4h-1zM465 344h1v4h-1zM466 348h1v3h-1zM467 351h1v4h-1zM468 355h1v2h-1zM480 354h1v2h-1zM481 352h1v2h-1zM483 349h1v2h-1zM484 346h1v3h-1zM485 342h1v4h-1zM486 338h1v4h-1zM487 334h1v4h-1zM488 330h1v4h-1zM489 326h1v4h-1zM490 322h1v4h-1zM491 319h1v3h-1zM492 316h1v3h-1zM493 312h1v4h-1zM494 309h1v3h-1zM495 306h1v3h-1zM496 303h1v3h-1zM497 301h1v2h-1zM498 298h1v3h-1zM499 295h1v3h-1zM500 290h1v5h-1zM501 284h1v6h-1zM502 278h1v6h-1zM503 272h1v6h-1zM504 266h1v6h-1zM505 259h1v7h-1zM506 249h1v10h-1zM507 239h1v10h-1zM508 230h1v9h-1zM509 220h1v10h-1zM510 213h1v7h-1zM511 209h1v4h-1zM512 204h1v5h-1zM513 199h1v5h-1zM514 195h1v4h-1zM515 190h1v5h-1zM516 185h1v5h-1zM517 180h1v5h-1zM518 175h1v5h-1zM519 170h1v5h-1zM520 165h1v5h-1zM521 160h1v5h-1zM522 156h1v4h-1zM523 151h1v5h-1zM524 147h1v4h-1zM525 143h1v4h-1zM526 140h1v3h-1zM528 137h1v2h-1zM531 134h1v2h-1zM532 136h1v4h-1zM533 140h1v4h-1zM534 144h1v3h-1zM535 147h1v4h-1zM536 151h1v2h-1zM558 168h1v2h-1zM559 170h1v2h-1zM560 172h1v3h-1zM561 175h1v2h-1zM562 177h1v2h-1zM563 179h1v3h-1zM564 182h1v3h-1zM565 185h1v3h-1zM566 188h1v2h-1zM567 190h1v3h-1zM568 193h1v4h-1zM569 197h1v4h-1zM570 201h1v4h-1zM571 205h1v4h-1zM572 209h1v4h-1zM573 213h1v4h-1zM574 217h1v3h-1zM575 220h1v2h-1zM576 222h1v3h-1zM577 225h1v3h-1zM578 228h1v2h-1zM579 230h1v3h-1zM580 233h1v3h-1zM581 236h1v3h-1zM582 239h1v2h-1zM583 241h1v3h-1zM584 244h1v3h-1zM585 247h1v4h-1zM586 251h1v4h-1zM587 255h1v3h-1zM588 258h1v4h-1zM589 262h1v3h-1zM590 265h1v4h-1zM591 269h1v4h-1zM592 273h1v4h-1zM593 277h1v4h-1zM594 281h1v2h-1zM601 284h1v2h-1zM604 280h1v2h-1zM606 277h1v2h-1zM607 275h1v2h-1zM609 272h1v2h-1zM610 268h1v4h-1zM611 262h1v6h-1zM612 255h1v7h-1zM613 248h1v7h-1zM614 242h1v6h-1zM615 236h1v6h-1zM616 231h1v5h-1zM617 227h1v4h-1zM618 222h1v5h-1zM619 217h1v5h-1zM620 213h1v4h-1zM621 209h1v4h-1zM622 206h1v3h-1zM623 203h1v3h-1zM624 201h1v2h-1zM625 198h1v3h-1zM626 196h1v2h-1zM627 194h1v2h-1zM630 190h1v2h-1zM631 189h1v2h-1zM632 191h1v2h-1zM633 193h1v2h-1zM634 195h1v2h-1zM635 197h1v2h-1zM636 199h1v2h-1zM637 201h1v3h-1zM638 204h1v2h-1zM639 206h1v3h-1zM640 209h1v3h-1zM641 212h1v2h-1zM642 214h1v2h-1zM653 220h1v2h-1zM656 224h1v2h-1zM657 224h1v3h-1zM658 218h1v6h-1zM659 212h1v6h-1zM660 206h1v6h-1zM661 200h1v6h-1zM662 194h1v6h-1zM663 188h1v6h-1zM664 182h1v6h-1zM665 175h1v7h-1zM666 169h1v6h-1zM667 163h1v6h-1zM668 157h1v6h-1zM669 153h1v4h-1zM670 148h1v5h-1zM671 143h1v5h-1zM672 139h1v4h-1zM673 134h1v5h-1zM674 129h1v5h-1zM675 123h1v6h-1zM676 118h1v5h-1zM677 113h1v5h-1zM678 109h1v4h-1zM679 105h1v4h-1zM680 102h1v3h-1zM681 98h1v4h-1zM682 95h1v3h-1zM683 91h1v4h-1zM684 89h1v3h-1zM685 92h1v4h-1zM686 96h1v4h-1zM687 100h1v4h-1zM688 104h1v4h-1zM689 108h1v2h-1zM690 110h1v2h-1zM691 112h1v2h-1zM693 115h1v2h-1zM710 120h1v2h-1zM711 118h1v2h-1zM712 116h1v2h-1zM713 114h1v2h-1zM714 112h1v2h-1zM715 110h1v2h-1zM0 33h1v1h-1zM1 34h1v1h-1zM2 35h1v1h-1zM4 38h1v1h-1zM5 39h1v1h-1zM6 40h1v1h-1zM9 45h1v1h-1zM18 65h1v1h-1zM19 66h1v1h-1zM21 69h1v1h-1zM23 72h1v1h-1zM24 73h1v1h-1zM26 76h1v1h-1zM75 247h2v1h-2zM81 247h2v1h-2zM77 248h4v1h-4zM100 248h1v1h-1zM83 246h1v1h-1zM90 234h1v1h-1zM91 235h1v1h-1zM92 236h2v1h-2zM94 237h1v1h-1zM103 253h1v1h-1zM105 256h1v1h-1zM106 257h1v1h-1zM107 258h2v1h-2zM109 259h1v1h-1zM110 260h1v1h-1zM117 277h2v1h-2zM119 276h2v1h-2zM153 152h1v1h-1zM537 152h1v1h-1zM155 149h1v1h-1zM156 148h1v1h-1zM158 145h1v1h-1zM160 142h1v1h-1zM161 141h1v1h-1zM169 126h1v1h-1zM170 125h1v1h-1zM171 124h1v1h-1zM172 123h1v1h-1zM173 122h1v1h-1zM174 121h1v1h-1zM175 120h2v1h-2zM709 120h1v1h-1zM177 119h2v1h-2zM707 119h2v1h-2zM179 118h1v1h-1zM697 118h6v1h-6zM706 118h1v1h-1zM180 117h1v1h-1zM694 117h3v1h-3zM703 117h3v1h-3zM182 114h1v1h-1zM186 114h2v1h-2zM692 114h1v1h-1zM183 113h1v1h-1zM185 113h1v1h-1zM184 112h1v1h-1zM188 115h1v1h-1zM189 116h1v1h-1zM212 180h1v1h-1zM231 180h1v1h-1zM239 180h2v1h-2zM357 180h1v1h-1zM361 180h4v1h-4zM213 181h2v1h-2zM230 181h1v1h-1zM241 181h1v1h-1zM245 181h3v1h-3zM356 181h1v1h-1zM215 182h3v1h-3zM229 182h1v1h-1zM242 182h3v1h-3zM248 182h1v1h-1zM355 182h1v1h-1zM218 183h2v1h-2zM228 183h1v1h-1zM249 183h1v1h-1zM354 183h1v1h-1zM220 184h4v1h-4zM227 184h1v1h-1zM353 184h1v1h-1zM224 185h3v1h-3zM352 185h1v1h-1zM232 179h3v1h-3zM238 179h1v1h-1zM358 179h3v1h-3zM365 179h2v1h-2zM235 178h3v1h-3zM367 178h2v1h-2zM251 186h1v1h-1zM252 187h1v1h-1zM253 188h1v1h-1zM350 188h1v1h-1zM265 211h1v1h-1zM274 211h2v1h-2zM266 212h1v1h-1zM272 212h2v1h-2zM268 215h1v1h-1zM291 215h2v1h-2zM643 215h1v1h-1zM269 214h2v1h-2zM290 214h1v1h-1zM271 213h1v1h-1zM289 213h1v1h-1zM276 210h2v1h-2zM287 210h1v1h-1zM278 209h2v1h-2zM280 208h1v1h-1zM281 207h2v1h-2zM283 206h1v1h-1zM284 205h1v1h-1zM293 216h1v1h-1zM644 216h2v1h-2zM294 217h1v1h-1zM646 217h3v1h-3zM295 218h1v1h-1zM649 218h2v1h-2zM296 219h1v1h-1zM651 219h2v1h-2zM297 220h1v1h-1zM329 220h2v1h-2zM298 221h1v1h-1zM303 221h2v1h-2zM324 221h5v1h-5zM299 222h1v1h-1zM301 222h2v1h-2zM321 222h3v1h-3zM654 222h1v1h-1zM300 223h1v1h-1zM320 223h1v1h-1zM655 223h1v1h-1zM310 230h2v1h-2zM312 229h3v1h-3zM315 228h2v1h-2zM317 227h1v1h-1zM319 224h1v1h-1zM343 195h1v1h-1zM344 194h2v1h-2zM346 193h1v1h-1zM628 193h1v1h-1zM347 192h1v1h-1zM629 192h1v1h-1zM349 189h1v1h-1zM369 177h1v1h-1zM370 176h1v1h-1zM372 173h1v1h-1zM418 173h2v1h-2zM373 172h1v1h-1zM417 172h1v1h-1zM374 171h1v1h-1zM416 171h1v1h-1zM377 166h1v1h-1zM412 166h1v1h-1zM556 166h1v1h-1zM379 163h1v1h-1zM552 163h1v1h-1zM380 162h1v1h-1zM551 162h1v1h-1zM381 161h1v1h-1zM408 161h1v1h-1zM549 161h2v1h-2zM382 160h1v1h-1zM407 160h1v1h-1zM548 160h1v1h-1zM383 159h1v1h-1zM547 159h1v1h-1zM384 158h1v1h-1zM546 158h1v1h-1zM385 157h1v1h-1zM405 157h1v1h-1zM545 157h1v1h-1zM386 156h2v1h-2zM403 156h2v1h-2zM544 156h1v1h-1zM388 155h1v1h-1zM401 155h2v1h-2zM543 155h1v1h-1zM389 154h4v1h-4zM398 154h3v1h-3zM541 154h2v1h-2zM393 153h5v1h-5zM538 153h3v1h-3zM410 164h1v1h-1zM553 164h1v1h-1zM411 165h1v1h-1zM554 165h2v1h-2zM414 169h1v1h-1zM415 170h1v1h-1zM420 174h1v1h-1zM448 297h2v1h-2zM450 296h2v1h-2zM469 356h11v1h-11zM482 351h1v1h-1zM527 139h1v1h-1zM529 136h1v1h-1zM530 135h1v1h-1zM557 167h1v1h-1zM595 283h2v1h-2zM602 283h1v1h-1zM597 284h1v1h-1zM598 285h2v1h-2zM600 286h1v1h-1zM603 282h1v1h-1zM605 279h1v1h-1zM608 274h1v1h-1z" fill="#b05a8a"/>
<path d="M11 77h1v2h-1zM12 75h1v2h-1zM13 73h1v2h-1zM14 71h1v2h-1zM15 69h1v2h-1zM16 67h1v2h-1zM17 65h1v2h-1zM18 63h1v2h-1zM20 60h1v2h-1zM38 52h1v2h-1zM41 56h1v2h-1zM45 61h1v2h-1zM48 65h1v2h-1zM49 67h1v2h-1zM50 69h1v2h-1zM51 71h1v2h-1zM52 73h1v2h-1zM55 77h1v2h-1zM70 93h1v2h-1zM73 97h1v2h-1zM75 100h1v2h-1zM78 104h1v2h-1zM80 107h1v2h-1zM83 111h1v2h-1zM90 118h1v2h-1zM91 120h1v2h-1zM92 122h1v2h-1zM93 124h1v2h-1zM94 126h1v2h-1zM95 128h1v3h-1zM96 131h1v2h-1zM97 133h1v3h-1zM98 136h1v3h-1zM99 139h1v2h-1zM100 141h1v3h-1zM101 144h1v3h-1zM102 147h1v3h-1zM103 150h1v2h-1zM104 152h1v3h-1zM105 155h1v3h-1zM106 158h1v2h-1zM107 160h1v2h-1zM108 162h1v2h-1zM109 164h1v2h-1zM110 166h1v2h-1zM111 168h1v2h-1zM112 170h1v2h-1zM113 172h1v2h-1zM114 174h1v2h-1zM115 176h1v2h-1zM116 178h1v2h-1zM117 180h1v2h-1zM118 182h1v2h-1zM120 185h1v2h-1zM134 196h1v2h-1zM181 200h1v2h-1zM455 207h1v2h-1zM459 212h1v2h-1zM462 216h1v2h-1zM464 219h1v2h-1zM465 221h1v2h-1zM467 224h1v2h-1zM470 228h1v2h-1zM481 239h1v2h-1zM611 214h1v2h-1zM614 210h1v2h-1zM696 195h1v2h-1zM702 188h1v2h-1zM0 84h2v1h-2zM61 84h1v1h-1zM2 83h2v1h-2zM60 83h1v1h-1zM4 82h2v1h-2zM59 82h1v1h-1zM6 81h1v1h-1zM58 81h1v1h-1zM7 80h2v1h-2zM57 80h1v1h-1zM9 79h2v1h-2zM56 79h1v1h-1zM19 62h1v1h-1zM21 59h1v1h-1zM43 59h1v1h-1zM22 58h1v1h-1zM42 58h1v1h-1zM23 57h1v1h-1zM24 56h1v1h-1zM25 55h1v1h-1zM40 55h1v1h-1zM26 54h1v1h-1zM39 54h1v1h-1zM27 53h2v1h-2zM29 52h2v1h-2zM31 51h7v1h-7zM44 60h1v1h-1zM46 63h1v1h-1zM47 64h1v1h-1zM53 75h1v1h-1zM54 76h1v1h-1zM62 85h1v1h-1zM63 86h1v1h-1zM64 87h1v1h-1zM65 88h1v1h-1zM66 89h1v1h-1zM67 90h1v1h-1zM68 91h1v1h-1zM69 92h1v1h-1zM71 95h1v1h-1zM72 96h1v1h-1zM74 99h1v1h-1zM76 102h1v1h-1zM77 103h1v1h-1zM79 106h1v1h-1zM81 109h1v1h-1zM82 110h1v1h-1zM84 113h1v1h-1zM85 114h1v1h-1zM86 115h2v1h-2zM88 116h1v1h-1zM89 117h1v1h-1zM119 184h1v1h-1zM209 184h2v1h-2zM296 184h1v1h-1zM706 184h1v1h-1zM121 187h1v1h-1zM203 187h2v1h-2zM300 187h1v1h-1zM419 187h2v1h-2zM422 187h2v1h-2zM703 187h1v1h-1zM122 188h1v1h-1zM201 188h2v1h-2zM301 188h2v1h-2zM409 188h5v1h-5zM417 188h2v1h-2zM424 188h2v1h-2zM123 189h2v1h-2zM199 189h2v1h-2zM303 189h2v1h-2zM407 189h2v1h-2zM414 189h3v1h-3zM426 189h1v1h-1zM125 190h1v1h-1zM197 190h2v1h-2zM305 190h1v1h-1zM403 190h4v1h-4zM427 190h2v1h-2zM701 190h1v1h-1zM126 191h2v1h-2zM194 191h3v1h-3zM306 191h1v1h-1zM400 191h3v1h-3zM429 191h2v1h-2zM700 191h1v1h-1zM128 192h2v1h-2zM192 192h2v1h-2zM307 192h1v1h-1zM398 192h2v1h-2zM431 192h2v1h-2zM699 192h1v1h-1zM130 193h2v1h-2zM190 193h2v1h-2zM308 193h1v1h-1zM396 193h2v1h-2zM433 193h3v1h-3zM698 193h1v1h-1zM132 194h1v1h-1zM188 194h2v1h-2zM309 194h1v1h-1zM394 194h2v1h-2zM436 194h3v1h-3zM697 194h1v1h-1zM133 195h1v1h-1zM187 195h1v1h-1zM310 195h1v1h-1zM391 195h3v1h-3zM439 195h2v1h-2zM135 198h1v1h-1zM183 198h1v1h-1zM313 198h1v1h-1zM383 198h1v1h-1zM444 198h2v1h-2zM694 198h1v1h-1zM136 199h1v1h-1zM182 199h1v1h-1zM314 199h1v1h-1zM381 199h2v1h-2zM446 199h1v1h-1zM693 199h1v1h-1zM137 200h1v1h-1zM315 200h1v1h-1zM380 200h1v1h-1zM447 200h1v1h-1zM692 200h1v1h-1zM138 201h1v1h-1zM316 201h1v1h-1zM378 201h2v1h-2zM448 201h1v1h-1zM630 201h3v1h-3zM691 201h1v1h-1zM139 202h1v1h-1zM180 202h1v1h-1zM317 202h2v1h-2zM376 202h2v1h-2zM449 202h2v1h-2zM628 202h2v1h-2zM633 202h2v1h-2zM690 202h1v1h-1zM140 203h1v1h-1zM179 203h1v1h-1zM319 203h2v1h-2zM356 203h5v1h-5zM373 203h3v1h-3zM451 203h1v1h-1zM626 203h2v1h-2zM635 203h2v1h-2zM683 203h7v1h-7zM141 204h1v1h-1zM177 204h2v1h-2zM321 204h19v1h-19zM351 204h5v1h-5zM361 204h5v1h-5zM370 204h3v1h-3zM452 204h1v1h-1zM624 204h2v1h-2zM637 204h1v1h-1zM680 204h3v1h-3zM142 205h2v1h-2zM175 205h2v1h-2zM340 205h5v1h-5zM349 205h2v1h-2zM366 205h4v1h-4zM453 205h1v1h-1zM622 205h2v1h-2zM638 205h1v1h-1zM678 205h2v1h-2zM144 206h2v1h-2zM172 206h3v1h-3zM345 206h4v1h-4zM454 206h1v1h-1zM621 206h1v1h-1zM639 206h1v1h-1zM676 206h2v1h-2zM146 207h15v1h-15zM166 207h6v1h-6zM619 207h2v1h-2zM640 207h1v1h-1zM674 207h2v1h-2zM161 208h5v1h-5zM617 208h2v1h-2zM641 208h1v1h-1zM673 208h1v1h-1zM184 197h1v1h-1zM312 197h1v1h-1zM384 197h3v1h-3zM443 197h1v1h-1zM695 197h1v1h-1zM185 196h2v1h-2zM311 196h1v1h-1zM387 196h4v1h-4zM441 196h2v1h-2zM205 186h2v1h-2zM299 186h1v1h-1zM421 186h1v1h-1zM704 186h1v1h-1zM207 185h2v1h-2zM297 185h2v1h-2zM705 185h1v1h-1zM211 183h1v1h-1zM295 183h1v1h-1zM707 183h2v1h-2zM212 182h2v1h-2zM294 182h1v1h-1zM709 182h1v1h-1zM214 181h2v1h-2zM219 181h3v1h-3zM293 181h1v1h-1zM710 181h1v1h-1zM216 180h3v1h-3zM222 180h2v1h-2zM291 180h2v1h-2zM711 180h1v1h-1zM224 179h2v1h-2zM290 179h1v1h-1zM712 179h1v1h-1zM226 178h1v1h-1zM289 178h1v1h-1zM713 178h1v1h-1zM227 177h1v1h-1zM288 177h1v1h-1zM714 177h1v1h-1zM228 176h1v1h-1zM287 176h1v1h-1zM715 176h1v1h-1zM229 175h1v1h-1zM286 175h1v1h-1zM230 174h1v1h-1zM285 174h1v1h-1zM231 173h1v1h-1zM284 173h1v1h-1zM232 172h1v1h-1zM282 172h2v1h-2zM233 171h1v1h-1zM280 171h2v1h-2zM234 170h2v1h-2zM279 170h1v1h-1zM236 169h1v1h-1zM277 169h2v1h-2zM237 168h1v1h-1zM275 168h2v1h-2zM238 167h1v1h-1zM267 167h8v1h-8zM239 166h2v1h-2zM265 166h2v1h-2zM241 165h1v1h-1zM263 165h2v1h-2zM242 164h1v1h-1zM261 164h2v1h-2zM243 163h2v1h-2zM259 163h2v1h-2zM245 162h2v1h-2zM256 162h3v1h-3zM247 161h9v1h-9zM456 209h1v1h-1zM615 209h2v1h-2zM642 209h2v1h-2zM671 209h2v1h-2zM457 210h1v1h-1zM644 210h2v1h-2zM669 210h2v1h-2zM458 211h1v1h-1zM646 211h2v1h-2zM668 211h1v1h-1zM460 214h1v1h-1zM651 214h1v1h-1zM664 214h1v1h-1zM461 215h1v1h-1zM652 215h1v1h-1zM663 215h1v1h-1zM463 218h1v1h-1zM608 218h1v1h-1zM657 218h2v1h-2zM466 223h1v1h-1zM603 223h1v1h-1zM468 226h1v1h-1zM600 226h1v1h-1zM469 227h1v1h-1zM598 227h2v1h-2zM471 230h1v1h-1zM592 230h3v1h-3zM472 231h1v1h-1zM588 231h4v1h-4zM473 232h1v1h-1zM586 232h2v1h-2zM474 233h1v1h-1zM584 233h2v1h-2zM475 234h2v1h-2zM583 234h1v1h-1zM477 235h1v1h-1zM581 235h2v1h-2zM478 236h1v1h-1zM580 236h1v1h-1zM479 237h1v1h-1zM579 237h1v1h-1zM480 238h1v1h-1zM577 238h2v1h-2zM482 241h1v1h-1zM566 241h5v1h-5zM483 242h1v1h-1zM562 242h4v1h-4zM484 243h1v1h-1zM560 243h2v1h-2zM485 244h1v1h-1zM558 244h2v1h-2zM486 245h2v1h-2zM557 245h1v1h-1zM488 246h1v1h-1zM556 246h1v1h-1zM489 247h1v1h-1zM555 247h1v1h-1zM490 248h1v1h-1zM554 248h1v1h-1zM491 249h1v1h-1zM553 249h1v1h-1zM492 250h1v1h-1zM550 250h3v1h-3zM493 251h1v1h-1zM545 251h5v1h-5zM494 252h2v1h-2zM524 252h21v1h-21zM496 253h2v1h-2zM519 253h5v1h-5zM498 254h2v1h-2zM508 254h11v1h-11zM500 255h8v1h-8zM571 240h4v1h-4zM575 239h2v1h-2zM595 229h2v1h-2zM597 228h1v1h-1zM601 225h1v1h-1zM602 224h1v1h-1zM604 222h1v1h-1zM605 221h1v1h-1zM606 220h1v1h-1zM607 219h1v1h-1zM609 217h1v1h-1zM655 217h2v1h-2zM659 217h2v1h-2zM610 216h1v1h-1zM653 216h2v1h-2zM661 216h2v1h-2zM612 213h1v1h-1zM649 213h2v1h-2zM665 213h2v1h-2zM613 212h1v1h-1zM648 212h1v1h-1zM667 212h1v1h-1z" fill="#22b573"/>
</svg></div>
<div class="a" id="ttl"><b>4</b>時間足</div>
<div class="a" id="yax">
<div class="yl" style="top:22px">11000000</div>
<div class="yl" style="top:81px">10800000</div>
<div class="yl" style="top:141px">10600000</div>
<div class="yl" style="top:201px">10400000</div>
<div class="yl" style="top:261px">10200000</div>
<div class="yl" style="top:321px">10000000</div>
<div class="yl" style="top:380px">9800000</div>
</div>
<div class="xl" style="left:103px">2<i>/</i>14</div>
<div class="xl" style="left:229px">2<i>/</i>18</div>
<div class="xl" style="left:356px">2<i>/</i>22</div>
<div class="xl" style="left:482px">2<i>/</i>26</div>
<div class="xl" style="left:608px">3<i>/</i>2</div>
<div class="a" style="left:16px;top:447px;width:21px;height:1px;background:#b05a8a"></div>
<div class="lg" style="left:42px">５本移動平均線</div>
<div class="a" style="left:153px;top:447px;width:21px;height:1px;background:#22b573"></div>
<div class="lg" style="left:180px">２５本移動平均線</div>
</body></html>
